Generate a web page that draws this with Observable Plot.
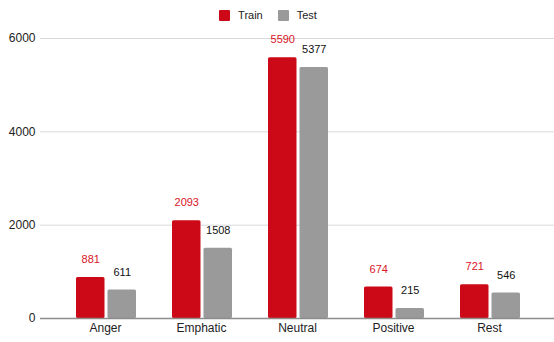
<!DOCTYPE html>
<html>
<head>
<meta charset="utf-8">
<script src="https://cdn.jsdelivr.net/npm/d3@7"></script>
<script src="https://cdn.jsdelivr.net/npm/@observablehq/plot@0.6"></script>
<style>
  html, body { margin: 0; padding: 0; background: #fff; }
  body { width: 554px; height: 342px; overflow: hidden; font-family: "Liberation Sans", Arial, sans-serif; }
  #legend { height: 30px; display: flex; justify-content: center; align-items: center; gap: 15px; font-size: 11px; color: #222; padding-right: 18px; box-sizing: border-box; }
  #legend .item { display: flex; align-items: center; }
  #legend .sw { width: 11px; height: 11px; border-radius: 1px; margin-right: 8px; }
</style>
</head>
<body>
<div id="legend"></div>
<div id="chart"></div>
<script>
const categories = ["Anger", "Emphatic", "Neutral", "Positive", "Rest"];
const seriesNames = ["Train", "Test"];
const trainValues = [881, 2093, 5590, 674, 721];
const testValues = [611, 1508, 5377, 215, 546];
const yTicks = [0, 2000, 4000, 6000];

const colors = {Train: "#cc0916", Test: "#9a9a9a"};
const labelColors = {Train: "#d8141f", Test: "#111"};

const trainRows = categories.map((c, i) => ({category: c, series: "Train", value: trainValues[i]}));
const testRows = categories.map((c, i) => ({category: c, series: "Test", value: testValues[i]}));

const legend = document.getElementById("legend");
for (const s of seriesNames) {
  const item = document.createElement("div");
  item.className = "item";
  item.innerHTML = `<span class="sw" style="background:${colors[s]}"></span><span>${s}</span>`;
  legend.appendChild(item);
}

const chart = Plot.plot({
  width: 554,
  height: 312,
  marginTop: 8,
  marginBottom: 24,
  marginLeft: 40,
  marginRight: 0,
  style: {fontSize: "12px", fontFamily: "'Liberation Sans', Arial, sans-serif", color: "#222", background: "#fff"},
  x: {domain: categories, padding: 0, insetLeft: 17, insetRight: 17, label: null, tickSize: 0, tickPadding: 5},
  y: {domain: [0, 6000], ticks: yTicks, label: null, tickSize: 0, tickPadding: 5, tickFormat: d => String(d)},
  marks: [
    Plot.ruleY(yTicks.filter(d => d !== 0), {stroke: "#d9d9d9", strokeWidth: 1}),
    Plot.barY(trainRows, {x: "category", y: "value", fill: colors.Train, insetLeft: 19, insetRight: 48.5, rx: 1.5}),
    Plot.barY(testRows, {x: "category", y: "value", fill: colors.Test, insetLeft: 50.5, insetRight: 17, rx: 1.5}),
    Plot.ruleY([0], {stroke: "#8c8c8c", strokeWidth: 1.5}),
    Plot.text(trainRows, {x: "category", y: "value", text: d => String(d.value), dx: -14.75, dy: -18, fill: labelColors.Train, fontSize: 11}),
    Plot.text(testRows, {x: "category", y: "value", text: d => String(d.value), dx: 16.75, dy: -18, fill: labelColors.Test, fontSize: 11})
  ]
});
document.getElementById("chart").appendChild(chart);
</script>
</body>
</html>
